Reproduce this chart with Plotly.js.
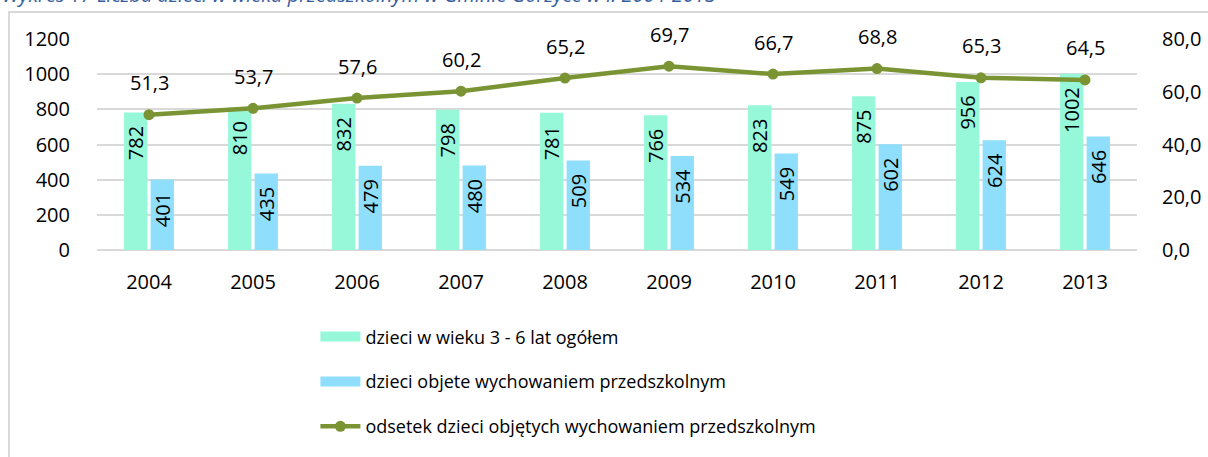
<!DOCTYPE html>
<html>
<head>
<meta charset="utf-8">
<script src="https://cdn.plot.ly/plotly-3.0.1.min.js"></script>
<style>
html,body{margin:0;padding:0;background:#fff;}
#wrap{position:relative;width:1208px;height:457px;overflow:hidden;}
#frame{position:absolute;left:8px;top:11px;width:1260px;height:500px;border:2px solid #d9d9d9;box-sizing:border-box;}
#chart{position:absolute;left:0;top:0;width:1208px;height:457px;}
</style>
</head>
<body>
<div id="wrap"><div id="frame"></div><div id="chart"></div></div>
<script>
const years = ['2004','2005','2006','2007','2008','2009','2010','2011','2012','2013'];
const total = [782, 810, 832, 798, 781, 766, 823, 875, 956, 1002];
const covered = [401, 435, 479, 480, 509, 534, 549, 602, 624, 646];
const percent = [51.3, 53.7, 57.6, 60.2, 65.2, 69.7, 66.7, 68.8, 65.3, 64.5];
const leftTicks = [0, 200, 400, 600, 800, 1000, 1200];
const rightTicks = [0, 20, 40, 60, 80];
const names = ['dzieci w wieku 3 - 6 lat ogółem', 'dzieci objete wychowaniem przedszkolnym', 'odsetek dzieci objętych wychowaniem przedszkolnym'];
const titleText = 'Wykres 17 Liczba dzieci w wieku przedszkolnym w Gminie Gorzyce w l. 2004-2013';
const colTotal = '#97F7D9', colCovered = '#8EDEFC', colLine = '#7A9433';

const fmt = v => v.toFixed(1).replace('.', ',');
const FONT = 'Open Sans, sans-serif';
const padLabel = v => String(v) + '\u00a0\u00a0';

const traces = [
  {type:'bar', x:years, y:total, name:names[0], marker:{color:colTotal},
   text:total.map(padLabel), textposition:'inside', insidetextanchor:'end', textangle:-90,
   constraintext:'none', textfont:{family:FONT, size:20, color:'#000'},
   showlegend:false, hoverinfo:'skip'},
  {type:'bar', x:years, y:covered, name:names[1], marker:{color:colCovered},
   text:covered.map(padLabel), textposition:'inside', insidetextanchor:'end', textangle:-90,
   constraintext:'none', textfont:{family:FONT, size:20, color:'#000'},
   showlegend:false, hoverinfo:'skip'},
  {type:'scatter', mode:'lines+markers', x:years, y:percent, yaxis:'y2', name:names[2],
   line:{color:colLine, width:4.5}, marker:{color:colLine, size:11},
   legendgroup:'c', legendrank:3, hoverinfo:'skip'},
  {type:'scatter', mode:'lines', x:[null], y:[null], name:names[0], line:{color:colTotal, width:16},
   legendgroup:'a', legendrank:1, hoverinfo:'skip'},
  {type:'scatter', mode:'lines', x:[null], y:[null], name:names[1], line:{color:colCovered, width:16},
   legendgroup:'b', legendrank:2, hoverinfo:'skip'}
];

const annotations = percent.map((v,i)=>({
  x:i, y:v, xref:'x', yref:'y2', text:fmt(v), showarrow:false,
  yshift:32, font:{family:FONT, size:20, color:'#000'}
}));
annotations.push({
  xref:'paper', yref:'paper', x:-0.093, y:1.139, xanchor:'left', yanchor:'bottom',
  text:'<i>'+titleText+'</i>', showarrow:false,
  font:{family:FONT, size:20, color:'#3A5F9E'}
});

const layout = {
  width:1208, height:457,
  margin:{l:97, r:71, t:39, b:202, pad:0},
  paper_bgcolor:'rgba(0,0,0,0)', plot_bgcolor:'rgba(0,0,0,0)',
  font:{family:FONT, size:20, color:'#000'},
  barmode:'group', bargap:0.49, bargroupgap:0.12,
  showlegend:true,
  legend:{orientation:'v', x:0.21, xanchor:'left', y:-0.324, yanchor:'top',
    traceorder:'grouped', tracegroupgap:18.5, itemwidth:40,
    font:{family:FONT, size:18, color:'#000'}, bgcolor:'rgba(0,0,0,0)'},
  xaxis:{type:'category', range:[-0.5, 9.5], showgrid:false, showline:false, zeroline:false,
    ticks:'outside', ticklen:14, tickcolor:'rgba(0,0,0,0)',
    tickfont:{family:FONT, size:20, color:'#000'}},
  yaxis:{range:[0,1200], tickvals:leftTicks, ticktext:leftTicks.map(String),
    showgrid:true, gridcolor:'#d9d9d9', gridwidth:2, zeroline:true, zerolinecolor:'#d9d9d9', zerolinewidth:2,
    showline:false, ticks:'outside', ticklen:22, tickcolor:'rgba(0,0,0,0)',
    tickfont:{family:FONT, size:20, color:'#000'}},
  yaxis2:{range:[0,80], overlaying:'y', side:'right', tickvals:rightTicks, ticktext:rightTicks.map(fmt),
    showgrid:false, zeroline:false, showline:false, ticks:'outside', ticklen:20, tickcolor:'rgba(0,0,0,0)',
    tickfont:{family:FONT, size:20, color:'#000'}},
  annotations:annotations
};

Plotly.newPlot('chart', traces, layout, {displayModeBar:false, staticPlot:true});
</script>
</body>
</html>
